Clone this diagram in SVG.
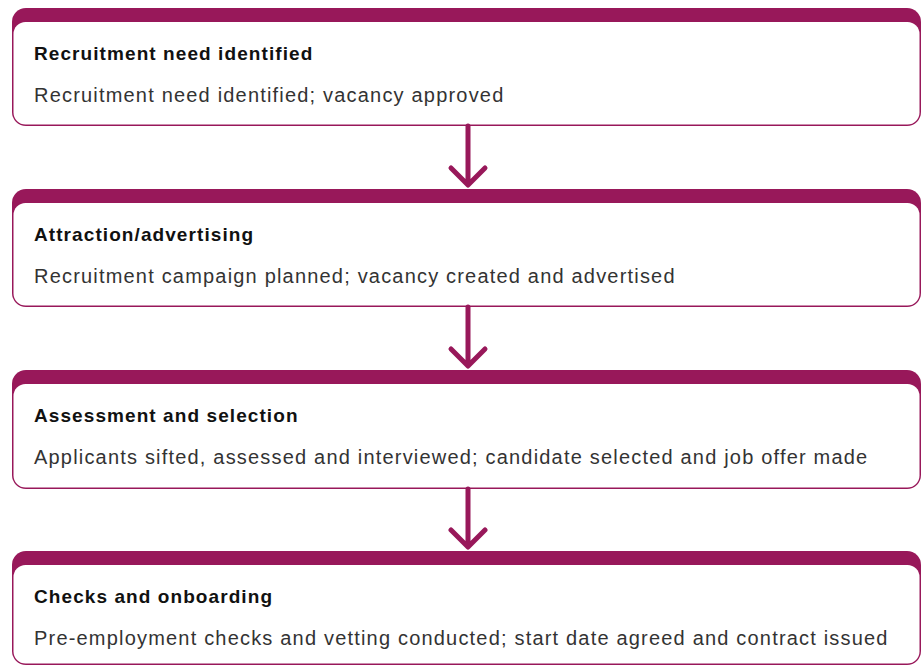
<svg xmlns="http://www.w3.org/2000/svg" width="922" height="666" viewBox="0 0 922 666">
<defs>
<style>
.outer{fill:#98185a}
.inner{fill:#ffffff}
.title{font-family:"Liberation Sans",Arial,sans-serif;font-weight:bold;font-size:19px;letter-spacing:1.08px;fill:#111111}
.body{font-family:"Liberation Sans",Arial,sans-serif;font-size:20px;letter-spacing:1.19px;fill:#333333}
.arrow{fill:none;stroke:#98185a;stroke-width:5;stroke-linecap:round;stroke-linejoin:round}
</style>
</defs>
<rect width="922" height="666" fill="#ffffff"/>
<g id="node1">
<rect class="outer" x="12" y="8" width="909" height="118" rx="14"/>
<rect class="inner" x="13.5" y="22" width="906" height="102.5" rx="12"/>
<text class="title" x="34" y="59.5">Recruitment need identified</text>
<text class="body" x="34" y="102">Recruitment need identified; vacancy approved</text>
</g>
<g id="node2">
<rect class="outer" x="12" y="189" width="909" height="118" rx="14"/>
<rect class="inner" x="13.5" y="203" width="906" height="102.5" rx="12"/>
<text class="title" x="34" y="240.5">Attraction/advertising</text>
<text class="body" x="34" y="283">Recruitment campaign planned; vacancy created and advertised</text>
</g>
<g id="node3">
<rect class="outer" x="12" y="370" width="909" height="119" rx="14"/>
<rect class="inner" x="13.5" y="384" width="906" height="103.5" rx="12"/>
<text class="title" x="34" y="421.5">Assessment and selection</text>
<text class="body" x="34" y="464">Applicants sifted, assessed and interviewed; candidate selected and job offer made</text>
</g>
<g id="node4">
<rect class="outer" x="12" y="551" width="909" height="114" rx="14"/>
<rect class="inner" x="13.5" y="565" width="906" height="98.5" rx="12"/>
<text class="title" x="34" y="602.5">Checks and onboarding</text>
<text class="body" x="34" y="645">Pre-employment checks and vetting conducted; start date agreed and contract issued</text>
</g>
<g id="connectors">
<path class="arrow" d="M468 126V184M451 168L468 185L485 168"/>
<path class="arrow" d="M468 307V365M451 349L468 366L485 349"/>
<path class="arrow" d="M468 489V546M451 530L468 547L485 530"/>
</g>
</svg>
